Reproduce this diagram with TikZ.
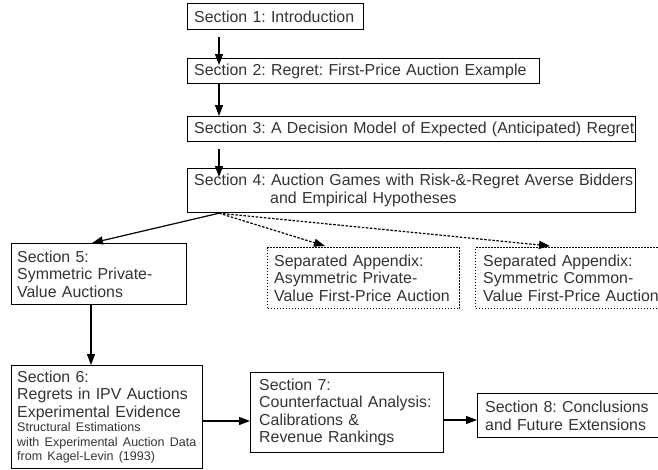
\documentclass[tikz,border=0pt]{standalone}
\usepackage{fontspec}
\setmainfont{Liberation Sans}
\usetikzlibrary{arrows.meta,calc}
\definecolor{ink}{HTML}{333333}
\newcommand\smallfs{\fontsize{12.5}{14.5}\selectfont}
\begin{document}
\begin{tikzpicture}[x=1pt,y=-1pt,
  box/.style={draw=black, line width=1.2pt, anchor=north west, inner sep=0pt},
  appbox/.style={box, dash pattern=on 1.6pt off 1.4pt},
  txt/.style={anchor=west, align=left, text width=460pt, inner sep=0pt, text=ink,
    font=\fontsize{15.9}{17.5}\selectfont\frenchspacing},
  arr/.style={-{Triangle[length=11pt,width=8pt]}, line width=1.2pt, draw=black},
  darr/.style={arr, dash pattern=on 2.5pt off 1.6pt}]
\useasboundingbox (0,0) rectangle (658,469);
\clip (0,0) rectangle (658,469);

% frames
\node[box, minimum width=176pt, minimum height=26pt] (s1) at (187,3) {};
\node[box, minimum width=352pt, minimum height=25pt] (s2) at (187,58) {};
\node[box, minimum width=448pt, minimum height=25pt] (s3) at (187,116) {};
\node[box, minimum width=448pt, minimum height=44pt] (s4) at (187,168) {};
\node[box, minimum width=175pt, minimum height=61pt] (s5) at (11,243) {};
\node[appbox, minimum width=192pt, minimum height=61pt] (apA) at (267,247) {};
\node[appbox, minimum width=200pt, minimum height=61pt] (apB) at (475,247) {};
\node[box, minimum width=191pt, minimum height=103pt] (s6) at (11,365) {};
\node[box, minimum width=193pt, minimum height=80pt] (s7) at (250,372) {};
\node[box, minimum width=200pt, minimum height=44pt] (s8) at (477,393) {};

% texts
\node[txt] (t1) at ($(s1.west)+(7,0)$) {Section 1: Introduction};
\node[txt] (t2) at ($(s2.west)+(7,0)$) {Section 2: Regret: First-Price Auction Example};
\node[txt] (t3) at ($(s3.west)+(7,0)$) {Section 3: A Decision Model of Expected (Anticipated) Regret};
\node[txt] (t4) at ($(s4.west)+(7,0)$) {Section 4: Auction Games with Risk-\&-Regret Averse Bidders\\\hspace*{76pt}and Empirical Hypotheses};
\node[txt] (t5) at ($(s5.west)+(6,0)$) {Section 5:\\Symmetric Private-\\Value Auctions};
\node[txt] (tA) at ($(apA.west)+(7,0)$) {Separated Appendix:\\Asymmetric Private-\\Value First-Price Auction};
\node[txt] (tB) at ($(apB.west)+(8,0)$) {Separated Appendix:\\Symmetric Common-\\Value First-Price Auction};
\node[txt] (t6) at ($(s6.west)+(6,0)$) {Section 6:\\Regrets in IPV Auctions\\Experimental Evidence\par
  {\smallfs Structural Estimations\\with Experimental Auction Data\\from Kagel-Levin (1993)\par}};
\node[txt] (t7) at ($(s7.west)+(9,0)$) {Section 7:\\Counterfactual Analysis:\\Calibrations \&\\Revenue Rankings};
\node[txt] (t8) at ($(s8.west)+(8,0)$) {Section 8: Conclusions\\and Future Extensions};

% connectors
\coordinate (spine) at (219,0);
\draw[arr, shorten <=7pt, shorten >=-7pt] (s1.south -| spine) -- (s2.north -| spine);
\draw[arr] (s2.south -| spine) -- (s3.north -| spine);
\draw[arr, shorten <=7pt, shorten >=-9pt] (s3.south -| spine) -- (s4.north -| spine);

\coordinate (fork) at ($(s4.south west)+(32,0)$);
\draw[arr] (fork) -- ($(s5.north west)+(81,0)$);
\draw[darr] (fork) -- ($(apA.north west)+(58,-1)$);
\draw[darr] (fork) -- ($(apB.north west)+(75,-1)$);

\draw[arr] ($(s5.south west)+(80,0)$) -- ($(s6.north west)+(80,0)$);

\coordinate (row67) at (0,421);
\draw[arr] (s6.east |- row67) -- (s7.west |- row67);
\coordinate (row78) at (0,420);
\draw[arr] (s7.east |- row78) -- (s8.west |- row78);
\end{tikzpicture}
\end{document}
